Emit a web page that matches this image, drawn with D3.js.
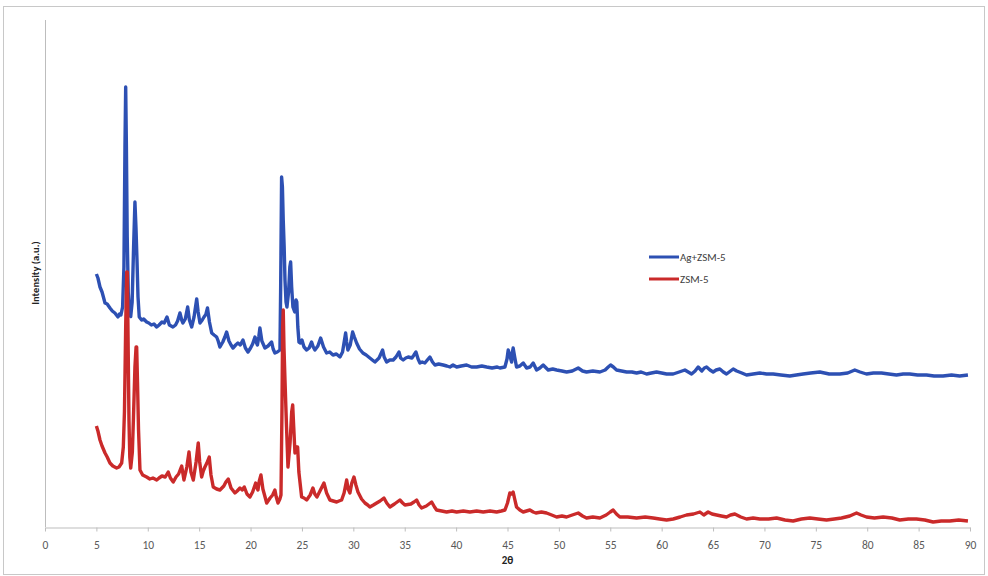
<!DOCTYPE html>
<html>
<head>
<meta charset="utf-8">
<script src="https://cdn.jsdelivr.net/npm/d3@7"></script>
<style>
  html, body { margin: 0; padding: 0; background: #fff; }
  svg { display: block; }
</style>
</head>
<body>
<svg id="chart" width="988" height="576"></svg>
<script>
// XRD patterns: 2θ (degrees) and intensity (a.u.)
const seriesNames = ["Ag+ZSM-5", "ZSM-5"];
const seriesColors = ["#2d50b3", "#ca2a2a"];

const agTheta = [5.0,5.15,5.35,5.55,5.84,6.05,6.32,6.55,6.8,7.10,7.25,7.39,7.55,7.68,7.78,7.85,7.92,8.0,8.1,8.22,8.34,8.48,8.62,8.75,8.85,8.95,9.05,9.17,9.4,9.6,9.89,10.1,10.35,10.6,10.87,11.1,11.38,11.6,11.87,12.1,12.45,12.7,12.9,13.13,13.3,13.42,13.65,13.88,14.05,14.27,14.5,14.76,14.9,15.08,15.3,15.47,15.65,15.81,16.0,16.22,16.45,16.70,16.85,17.02,17.3,17.5,17.67,17.9,18.1,18.29,18.55,18.77,19.0,19.26,19.5,19.75,20.0,20.2,20.43,20.55,20.67,20.8,20.91,21.1,21.40,21.7,22.05,22.2,22.37,22.6,22.86,22.93,23.02,23.1,23.18,23.27,23.35,23.45,23.54,23.7,23.82,23.90,24.0,24.12,24.3,24.42,24.5,24.6,24.71,24.85,25.00,25.2,25.46,25.7,25.94,26.1,26.26,26.55,26.82,27.1,27.40,27.7,28.02,28.35,28.70,28.95,29.25,29.35,29.47,29.7,29.93,30.1,30.32,30.6,30.93,31.25,31.61,31.85,32.10,32.5,32.85,33.0,33.24,33.55,33.88,34.15,34.44,34.6,34.85,35.1,35.34,35.7,35.9,36.09,36.3,36.48,36.7,36.96,37.2,37.45,37.7,37.94,38.3,38.74,39.1,39.40,39.7,40.05,40.5,41.02,41.5,42.0,42.5,42.97,43.5,44.0,44.26,44.75,44.95,45.07,45.2,45.40,45.48,45.55,45.7,45.88,46.2,46.53,46.86,47.2,47.50,47.83,48.15,48.47,48.96,49.4,49.78,50.3,50.75,51.3,51.88,52.3,52.69,53.3,53.99,54.5,54.8,55.03,55.3,55.61,56.1,56.59,57.1,57.56,58.0,58.53,59.0,59.50,60.0,60.48,61.12,61.7,62.26,62.91,63.25,63.55,63.91,64.15,64.37,64.7,65.01,65.3,65.66,66.0,66.31,66.7,66.96,67.3,67.8,68.26,68.9,69.55,70.2,70.85,71.6,72.47,73.1,73.76,74.5,75.39,76.3,77.33,78.1,78.79,79.3,79.93,80.6,81.39,82.1,82.85,83.5,84.14,84.9,85.77,86.5,87.38,88.2,89.0,89.8];
const agIntensity = [506,498,480,470,448,446,438,432,428,420,426,424,440,520,760,880,760,580,470,430,421,450,560,650,600,534,460,420,414,416,410,408,404,406,400,404,410,408,420,404,400,404,412,428,414,408,416,440,414,400,420,456,430,408,414,420,425,438,410,388,384,380,372,360,370,380,390,372,364,358,364,368,364,374,358,350,358,366,380,370,364,380,398,372,358,362,370,356,348,350,354,480,700,680,614,560,494,450,440,470,520,530,480,440,430,454,450,400,370,368,374,360,354,358,370,360,354,362,378,360,348,350,344,346,340,350,388,370,354,364,390,380,368,356,348,344,338,334,330,338,354,340,330,334,334,340,350,338,334,338,340,338,344,350,336,328,330,328,334,340,330,324,326,324,322,320,324,320,322,324,320,320,322,320,318,320,318,320,336,354,345,330,350,358,340,320,322,328,318,320,328,314,318,324,314,316,314,312,310,312,318,312,310,312,310,314,320,324,320,314,312,310,310,308,310,306,308,310,308,306,306,310,314,306,312,320,312,318,320,314,310,314,316,310,306,312,316,312,308,304,306,308,306,306,304,302,304,306,308,310,306,306,308,314,310,306,308,308,306,304,306,306,304,304,302,302,304,302,304];

const zsmTheta = [5.0,5.15,5.35,5.55,5.84,6.05,6.32,6.6,6.97,7.2,7.46,7.62,7.73,7.85,7.95,8.01,8.08,8.17,8.25,8.34,8.5,8.61,8.75,8.86,8.92,9.0,9.10,9.24,9.5,9.89,10.2,10.5,10.87,11.1,11.38,11.7,11.99,12.2,12.48,12.75,13.0,13.30,13.52,13.8,14.01,14.2,14.43,14.7,14.91,15.05,15.24,15.4,15.56,15.75,15.98,16.15,16.37,16.7,17.02,17.4,17.6,17.83,18.1,18.48,18.7,18.97,19.2,19.39,19.65,19.94,20.2,20.50,20.6,20.72,20.85,21.01,21.2,21.57,21.9,22.15,22.37,22.5,22.67,22.85,22.96,23.06,23.12,23.18,23.25,23.35,23.5,23.64,23.85,24.0,24.10,24.2,24.32,24.45,24.58,24.7,24.97,25.2,25.46,25.8,26.07,26.25,26.46,26.8,27.14,27.4,27.72,28.05,28.38,28.6,28.86,29.1,29.35,29.5,29.67,29.85,30.06,30.25,30.45,30.8,31.13,31.4,31.61,31.95,32.27,32.6,32.98,33.25,33.56,34.0,34.53,34.8,35.02,35.6,35.9,36.16,36.4,36.64,37.1,37.62,37.9,38.10,38.6,39.08,39.6,40.05,40.7,41.34,42.0,42.64,43.3,43.94,44.4,44.75,45.0,45.23,45.4,45.55,45.7,45.88,46.2,46.53,46.85,47.18,47.5,47.76,48.3,48.80,49.3,49.78,50.3,50.75,51.3,51.88,52.3,52.69,53.3,53.99,54.6,55.0,55.28,55.6,55.93,56.7,57.56,58.4,59.17,59.8,60.48,61.12,61.8,62.42,63.1,63.72,64.10,64.52,64.9,65.34,65.8,66.31,66.7,67.12,67.7,68.26,68.9,69.55,70.4,71.18,72.0,72.79,73.6,74.42,75.2,76.04,76.8,77.50,78.3,78.96,79.4,79.93,80.7,81.55,82.4,83.17,84.0,84.79,85.6,86.41,87.2,88.03,88.9,89.8];
const zsmIntensity = [202,192,174,162,148,140,128,122,118,120,128,160,230,400,510,510,380,214,140,118,150,220,320,360,360,290,194,114,104,100,96,98,94,98,102,100,110,98,90,100,106,122,94,120,150,110,94,130,168,130,100,112,120,128,140,104,80,76,74,82,90,96,78,68,72,78,74,80,66,60,70,88,80,74,92,104,76,48,58,64,74,60,48,56,64,240,400,434,360,294,200,120,170,230,244,200,148,160,160,110,60,58,54,64,78,66,60,74,88,68,54,52,50,52,54,68,94,76,68,88,100,84,70,56,48,44,40,44,48,52,58,48,40,46,54,48,44,46,50,54,44,38,42,50,40,34,32,30,32,30,32,30,32,30,32,30,32,34,48,68,66,70,56,40,34,30,32,34,30,28,30,28,24,20,22,20,24,28,22,18,20,18,24,30,34,26,20,20,18,20,18,16,14,16,20,24,26,30,24,30,26,24,22,20,24,26,20,16,18,16,16,18,14,12,16,18,16,14,16,18,22,28,24,20,18,20,18,14,16,16,14,10,12,12,14,12];

const xTicks = d3.range(0, 91, 5);

const svg = d3.select("#chart");
const plot = { left: 45, right: 970, top: 20, bottom: 527 };
const fontStack = "Carlito, Lato, 'Open Sans', sans-serif";

// outer frame
svg.append("rect")
  .attr("x", 3.5).attr("y", 6.5)
  .attr("width", 981).attr("height", 568)
  .attr("fill", "#fff")
  .attr("stroke", "#c8c8c8").attr("stroke-width", 1);

const x = d3.scaleLinear().domain([0, 90]).range([plot.left, plot.right]);
const y = d3.scaleLinear().domain([0, 1014]).range([plot.bottom, plot.top]);

// y axis line (no ticks)
svg.append("line")
  .attr("x1", plot.left + 0.5).attr("x2", plot.left + 0.5)
  .attr("y1", plot.top).attr("y2", plot.bottom)
  .attr("stroke", "#bdbdbd").attr("stroke-width", 1);

// x axis
const xAxis = d3.axisBottom(x)
  .tickValues(xTicks)
  .tickFormat(d3.format("d"))
  .tickSizeInner(4).tickSizeOuter(0).tickPadding(9);

const gx = svg.append("g")
  .attr("transform", `translate(0,${plot.bottom + 0.5})`)
  .call(xAxis);
gx.select(".domain").attr("stroke", "#bdbdbd");
gx.selectAll(".tick line").attr("stroke", "#bdbdbd");
gx.selectAll(".tick text")
  .attr("fill", "#595959")
  .style("font-family", fontStack)
  .style("font-size", "11.5px");

// axis titles
svg.append("text")
  .attr("x", (plot.left + plot.right) / 2).attr("y", 564)
  .attr("text-anchor", "middle")
  .attr("fill", "#222")
  .style("font-family", fontStack)
  .style("font-size", "11px").style("font-weight", "bold")
  .text("2θ");

svg.append("text")
  .attr("transform", "translate(39,273) rotate(-90)")
  .attr("text-anchor", "middle")
  .attr("fill", "#222")
  .style("font-family", fontStack)
  .style("font-size", "10.5px").style("font-weight", "bold")
  .text("Intensity (a.u.)");

// patterns
const line = d3.line()
  .x(d => x(d[0]))
  .y(d => y(d[1]));

const patterns = [
  d3.zip(agTheta, agIntensity),
  d3.zip(zsmTheta, zsmIntensity)
];

// series in legend order; ZSM-5 ends up on top
patterns.forEach((data, i) => {
  svg.append("path")
    .datum(data)
    .attr("fill", "none")
    .attr("stroke", seriesColors[i])
    .attr("stroke-width", 3.4)
    .attr("stroke-linejoin", "round")
    .attr("d", line);
});

// legend
const legend = svg.append("g").attr("transform", "translate(649,257)");
seriesNames.forEach((name, i) => {
  const g = legend.append("g").attr("transform", `translate(0,${i * 22})`);
  g.append("line")
    .attr("x1", 0).attr("x2", 30)
    .attr("stroke", seriesColors[i]).attr("stroke-width", 3);
  g.append("text")
    .attr("x", 31).attr("y", 4)
    .attr("fill", "#404040")
    .style("font-family", fontStack)
    .style("font-size", "11px")
    .text(name);
});
</script>
</body>
</html>
